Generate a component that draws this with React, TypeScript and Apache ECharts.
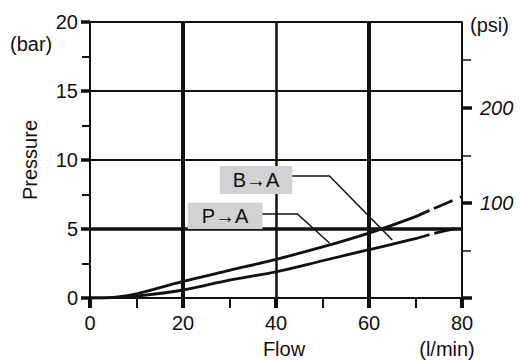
import React, { useEffect, useRef } from "react";
import * as echarts from "echarts";

// Flow (l/min) and pressure (bar)
const flowSolid = [0, 5, 10, 20, 30, 40, 50, 60, 70, 73];
const pToASolid = [0, 0.05, 0.3, 1.2, 2.0, 2.8, 3.7, 4.7, 5.9, 6.35];
const bToASolid = [0, 0.03, 0.14, 0.58, 1.3, 1.9, 2.7, 3.5, 4.3, 4.6];
const flowDashed = [73, 80];
const pToADashed = [6.35, 7.35];
const bToADashed = [4.6, 5.15];

const verticalGrid = [20, 40, 60];
const verticalGridWidth = [4, 2.5, 4];
const horizontalGrid = [5, 10, 15, 20];
const horizontalGridWidth = [3.5, 2, 2, 2];

const psiMajor = [0, 100, 200];
const psiLabels = [100, 200];
const psiMinor = [50, 150, 250];
const PSI_PER_BAR = 14.5038;

// annotation anchors in data coordinates [flow, bar]
const bBox = { left: 27.9, right: 43.5, top: 9.57, bottom: 7.54, text: "B→A" };
const bLeader = [[43.5, 8.84], [51.5, 8.84], [65, 4.2]];
const pBox = { left: 21.0, right: 37.1, top: 6.9, bottom: 5.0, text: "P→A" };
const pLeader = [[37.1, 6.09], [44.6, 6.09], [51.5, 3.99]];

const FONT = "'Liberation Sans', Arial, Helvetica, sans-serif";
const INK = "#111";

export default function App() {
  const ref = useRef<HTMLDivElement>(null);
  useEffect(() => {
    const chart = echarts.init(ref.current!, null, { renderer: "svg" });
    const mkLine = (xs: number[], ys: number[], dashed: boolean) => ({
      type: "line",
      xAxisIndex: 0,
      yAxisIndex: 0,
      data: xs.map((x, i) => [x, ys[i]]),
      smooth: 0.3,
      symbol: "none",
      silent: true,
      z: 5,
      lineStyle: {
        color: INK,
        width: 2.8,
        type: dashed ? [20, 8] : "solid",
        dashOffset: dashed ? 23 : 0,
        cap: "butt",
      },
    });
    const gridSeries = {
      type: "line",
      data: [],
      xAxisIndex: 0,
      yAxisIndex: 0,
      silent: true,
      z: 3,
      markLine: {
        symbol: "none",
        silent: true,
        animation: false,
        label: { show: false },
        lineStyle: { color: INK, type: "solid" },
        data: [
          ...verticalGrid.map((v, i) => ({ xAxis: v, lineStyle: { width: verticalGridWidth[i], color: INK, type: "solid" } })),
          ...horizontalGrid.map((v, i) => ({ yAxis: v, lineStyle: { width: horizontalGridWidth[i], color: INK, type: "solid" } })),
        ],
      },
    };
    chart.setOption({
      animation: false,
      backgroundColor: "#fff",
      textStyle: { fontFamily: FONT },
      grid: { left: 90, right: 58, top: 22, bottom: 62 },
      xAxis: {
        type: "value",
        min: 0,
        max: 80,
        interval: 20,
        axisLine: { lineStyle: { color: INK, width: 2 } },
        axisTick: { length: 10, lineStyle: { width: 4, color: INK } },
        minorTick: { show: true, splitNumber: 2, length: 10, lineStyle: { width: 2, color: INK } },
        axisLabel: { fontSize: 20, color: INK, margin: 15, fontFamily: FONT },
        splitLine: { show: false },
      },
      yAxis: [
        {
          type: "value",
          min: 0,
          max: 20,
          interval: 5,
          position: "left",
          name: "Pressure",
          nameLocation: "middle",
          nameGap: 50,
          nameTextStyle: { fontSize: 20, color: INK, fontFamily: FONT },
          axisLine: { show: true, lineStyle: { color: INK, width: 2 } },
          axisTick: { length: 9, lineStyle: { width: 3.5, color: INK } },
          minorTick: { show: true, splitNumber: 2, length: 8, lineStyle: { width: 2, color: INK } },
          axisLabel: { fontSize: 20, color: INK, margin: 12, fontFamily: FONT },
          splitLine: { show: false },
        },
        {
          type: "value",
          min: 0,
          max: 20 * PSI_PER_BAR,
          position: "right",
          axisLine: { show: true, lineStyle: { color: INK, width: 2 } },
          axisTick: { show: true, customValues: psiMajor, length: 10, lineStyle: { width: 3.5, color: INK } },
          axisLabel: { show: true, customValues: psiLabels, fontSize: 20, fontStyle: "italic", color: INK, margin: 18, fontFamily: FONT },
          splitLine: { show: false },
        },
        {
          type: "value",
          min: 0,
          max: 20 * PSI_PER_BAR,
          position: "right",
          axisLine: { show: false },
          axisTick: { show: true, customValues: psiMinor, length: 9, lineStyle: { width: 1.5, color: INK } },
          axisLabel: { show: false },
          splitLine: { show: false },
        },
      ],
      series: [
        gridSeries,
        mkLine(flowSolid, pToASolid, false),
        mkLine(flowDashed, pToADashed, true),
        mkLine(flowSolid, bToASolid, false),
        mkLine(flowDashed, bToADashed, true),
      ],
    });

    const px = (p: number[]) => chart.convertToPixel({ gridIndex: 0 }, p) as number[];
    const boxGraphic = (b: typeof bBox) => {
      const tl = px([b.left, b.top]);
      const br = px([b.right, b.bottom]);
      return [
        { type: "rect", shape: { x: tl[0], y: tl[1], width: br[0] - tl[0], height: br[1] - tl[1] }, style: { fill: "#d2d2d2" }, z: 10 },
        {
          type: "text",
          x: (tl[0] + br[0]) / 2,
          y: (tl[1] + br[1]) / 2,
          style: { text: b.text, fontSize: 20, fontFamily: FONT, fill: INK, align: "center", verticalAlign: "middle" },
          z: 11,
        },
      ];
    };
    const leader = (pts: number[][]) => ({
      type: "polyline",
      shape: { points: pts.map(px) },
      style: { stroke: INK, lineWidth: 1.5, fill: null },
      z: 10,
    });
    chart.setOption({
      graphic: [
        ...boxGraphic(bBox),
        ...boxGraphic(pBox),
        leader(bLeader),
        leader(pLeader),
        { type: "text", x: 10, y: 44, style: { text: "(bar)", fontSize: 20, fontFamily: FONT, fill: INK, verticalAlign: "middle" } },
        { type: "text", x: 470, y: 25, style: { text: "(psi)", fontSize: 20, fontFamily: FONT, fill: INK, verticalAlign: "middle" } },
        { type: "text", x: 284, y: 349, style: { text: "Flow", fontSize: 20, fontFamily: FONT, fill: INK, align: "center", verticalAlign: "middle" } },
        { type: "text", x: 447, y: 349, style: { text: "(l/min)", fontSize: 20, fontFamily: FONT, fill: INK, align: "center", verticalAlign: "middle" } },
      ],
    });
    return () => chart.dispose();
  }, []);
  return <div ref={ref} style={{ width: 520, height: 360, position: "absolute", left: 0, top: 0 }} />;
}
